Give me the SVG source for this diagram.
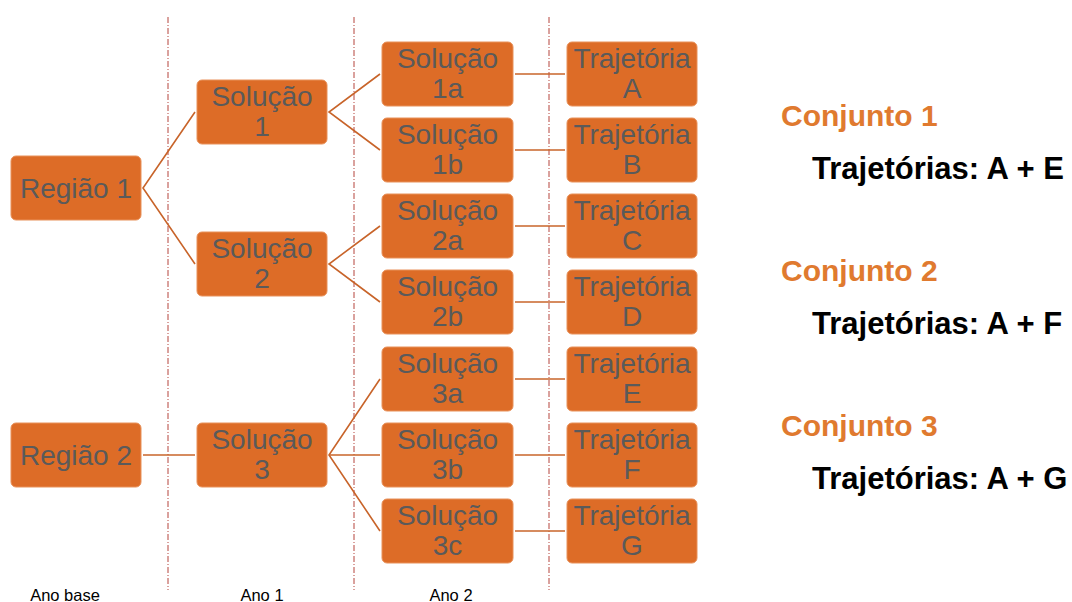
<svg xmlns="http://www.w3.org/2000/svg" width="1072" height="602" viewBox="0 0 1072 602">
  <style>
    .box { fill: #dd6c27; stroke: #e8915a; stroke-width: 1; }
    .lbl { font-family: "Liberation Sans", Arial, sans-serif; font-size: 28px; fill: #5a5a5a; text-anchor: middle; }
    .conn { stroke: #c8642a; stroke-width: 1.6; fill: none; }
    .sep { stroke: #b5443c; stroke-width: 1; stroke-dasharray: 6 2 1 2; }
    .axis { font-family: "Liberation Sans", Arial, sans-serif; font-size: 16.5px; fill: #000; text-anchor: middle; }
    .set { font-family: "Liberation Sans", Arial, sans-serif; font-size: 30px; font-weight: bold; fill: #e07a2f; }
    .traj { font-family: "Liberation Sans", Arial, sans-serif; font-size: 31px; font-weight: bold; fill: #000; }
  </style>

  <!-- year separators -->
  <g id="separators">
    <line class="sep" x1="168" y1="17" x2="168" y2="590"/>
    <line class="sep" x1="354" y1="17" x2="354" y2="590"/>
    <line class="sep" x1="549" y1="17" x2="549" y2="590"/>
  </g>

  <!-- connectors -->
  <g id="connectors">
    <polyline class="conn" points="195,112 143,188 195,264"/>
    <polyline class="conn" points="380,74 329,112 380,150"/>
    <polyline class="conn" points="380,226 329,264 380,302"/>
    <line class="conn" x1="143" y1="455" x2="195" y2="455"/>
    <polyline class="conn" points="380,379 329,455 380,531"/>
    <line class="conn" x1="329" y1="455" x2="380" y2="455"/>
    <line class="conn" x1="515" y1="74" x2="565" y2="74"/>
    <line class="conn" x1="515" y1="150" x2="565" y2="150"/>
    <line class="conn" x1="515" y1="226" x2="565" y2="226"/>
    <line class="conn" x1="515" y1="302" x2="565" y2="302"/>
    <line class="conn" x1="515" y1="379" x2="565" y2="379"/>
    <line class="conn" x1="515" y1="455" x2="565" y2="455"/>
    <line class="conn" x1="515" y1="531" x2="565" y2="531"/>
  </g>

  <!-- base year -->
  <g id="regiao1"><rect class="box" x="11" y="156" width="130" height="64" rx="5"/><text class="lbl" x="76" y="198">Região 1</text></g>
  <g id="regiao2"><rect class="box" x="11" y="423" width="130" height="64" rx="5"/><text class="lbl" x="76" y="465">Região 2</text></g>

  <!-- year 1 -->
  <g id="solucao1"><rect class="box" x="197" y="80" width="130" height="64" rx="5"/><text class="lbl" x="262" y="106">Solução</text><text class="lbl" x="262" y="136">1</text></g>
  <g id="solucao2"><rect class="box" x="197" y="232" width="130" height="64" rx="5"/><text class="lbl" x="262" y="258">Solução</text><text class="lbl" x="262" y="288">2</text></g>
  <g id="solucao3"><rect class="box" x="197" y="423" width="130" height="64" rx="5"/><text class="lbl" x="262" y="449">Solução</text><text class="lbl" x="262" y="479">3</text></g>

  <!-- year 2 -->
  <g id="solucao1a"><rect class="box" x="382" y="42" width="131" height="64" rx="5"/><text class="lbl" x="447.5" y="68">Solução</text><text class="lbl" x="447.5" y="98">1a</text></g>
  <g id="solucao1b"><rect class="box" x="382" y="118" width="131" height="64" rx="5"/><text class="lbl" x="447.5" y="144">Solução</text><text class="lbl" x="447.5" y="174">1b</text></g>
  <g id="solucao2a"><rect class="box" x="382" y="194" width="131" height="64" rx="5"/><text class="lbl" x="447.5" y="220">Solução</text><text class="lbl" x="447.5" y="250">2a</text></g>
  <g id="solucao2b"><rect class="box" x="382" y="270" width="131" height="64" rx="5"/><text class="lbl" x="447.5" y="296">Solução</text><text class="lbl" x="447.5" y="326">2b</text></g>
  <g id="solucao3a"><rect class="box" x="382" y="347" width="131" height="64" rx="5"/><text class="lbl" x="447.5" y="373">Solução</text><text class="lbl" x="447.5" y="403">3a</text></g>
  <g id="solucao3b"><rect class="box" x="382" y="423" width="131" height="64" rx="5"/><text class="lbl" x="447.5" y="449">Solução</text><text class="lbl" x="447.5" y="479">3b</text></g>
  <g id="solucao3c"><rect class="box" x="382" y="499" width="131" height="64" rx="5"/><text class="lbl" x="447.5" y="525">Solução</text><text class="lbl" x="447.5" y="555">3c</text></g>

  <!-- trajectories -->
  <g id="trajA"><rect class="box" x="567" y="42" width="130" height="64" rx="5"/><text class="lbl" x="632" y="68">Trajetória</text><text class="lbl" x="632" y="98">A</text></g>
  <g id="trajB"><rect class="box" x="567" y="118" width="130" height="64" rx="5"/><text class="lbl" x="632" y="144">Trajetória</text><text class="lbl" x="632" y="174">B</text></g>
  <g id="trajC"><rect class="box" x="567" y="194" width="130" height="64" rx="5"/><text class="lbl" x="632" y="220">Trajetória</text><text class="lbl" x="632" y="250">C</text></g>
  <g id="trajD"><rect class="box" x="567" y="270" width="130" height="64" rx="5"/><text class="lbl" x="632" y="296">Trajetória</text><text class="lbl" x="632" y="326">D</text></g>
  <g id="trajE"><rect class="box" x="567" y="347" width="130" height="64" rx="5"/><text class="lbl" x="632" y="373">Trajetória</text><text class="lbl" x="632" y="403">E</text></g>
  <g id="trajF"><rect class="box" x="567" y="423" width="130" height="64" rx="5"/><text class="lbl" x="632" y="449">Trajetória</text><text class="lbl" x="632" y="479">F</text></g>
  <g id="trajG"><rect class="box" x="567" y="499" width="130" height="64" rx="5"/><text class="lbl" x="632" y="525">Trajetória</text><text class="lbl" x="632" y="555">G</text></g>

  <!-- column captions -->
  <g id="captions">
    <text class="axis" x="65" y="601">Ano base</text>
    <text class="axis" x="262" y="601">Ano 1</text>
    <text class="axis" x="451" y="601">Ano 2</text>
  </g>

  <!-- trajectory sets -->
  <g id="sets">
    <text class="set" x="781" y="126">Conjunto 1</text>
    <text class="traj" x="812" y="179">Trajetórias: A + E</text>
    <text class="set" x="781" y="281">Conjunto 2</text>
    <text class="traj" x="812" y="334">Trajetórias: A + F</text>
    <text class="set" x="781" y="436">Conjunto 3</text>
    <text class="traj" x="812" y="489">Trajetórias: A + G</text>
  </g>
</svg>
